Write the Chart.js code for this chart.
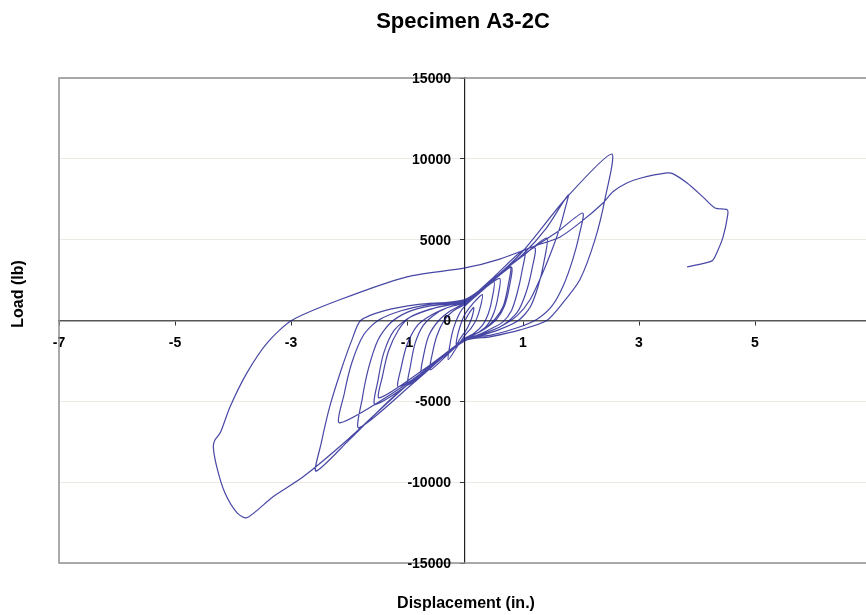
<!DOCTYPE html>
<html>
<head>
<meta charset="utf-8">
<script src="https://cdn.jsdelivr.net/npm/chart.js@4.4.1/dist/chart.umd.min.js"></script>
<style>
  html, body { margin: 0; padding: 0; background: #fff; overflow: hidden; }
  #wrap { width: 880px; height: 615px; }
</style>
</head>
<body>
<div id="wrap"><canvas id="chart" width="880" height="615"></canvas></div>
<script>
// Load-displacement record (in., lb), split by loading stage
const initialDisp = [0, 0.08, 0.15, 0.12, 0.05, 0, -0.08, -0.15, -0.12, -0.05, 0,
  0.15, 0.3, 0.27, 0.2, 0.1, 0, -0.15, -0.29, -0.26, -0.2, -0.1, 0,
  0.25, 0.5, 0.47, 0.4, 0.3, 0.15, 0, -0.3, -0.6, -0.56, -0.48, -0.36, -0.2, 0,
  0.4, 0.8, 0.76, 0.68, 0.55, 0.35, 0.15, 0, -0.5, -0.98, -0.94, -0.86, -0.72, -0.55, -0.3, 0,
  0.3, 0.6, 0.57, 0.5, 0.38, 0.2, 0, -0.4, -0.75, -0.71, -0.62, -0.45, -0.25, 0];
const initialLoad = [0, 500, 800, 200, -400, -700, -1100, -1500, -800, 0, 400,
  1100, 1600, 900, 100, -500, -900, -1700, -2430, -1500, -500, 400, 900,
  1700, 2400, 1400, 400, -300, -800, -1100, -2100, -3050, -2000, -900, 0, 600, 1000,
  2200, 3300, 2000, 900, 100, -500, -900, -1100, -2600, -3980, -2800, -1400, -300, 300, 800, 1100,
  1900, 2600, 1500, 500, -300, -800, -1100, -2300, -3300, -2100, -900, 0, 600, 1100];

const middleDisp = [0.5, 1.03, 0.98, 0.9, 0.8, 0.65, 0.4, 0.15, 0, -0.7, -1.48, -1.42, -1.32, -1.15, -0.95, -0.6, -0.3, 0,
  0.4, 0.78, 0.74, 0.66, 0.52, 0.3, 0, -0.6, -1.15, -1.1, -1.0, -0.82, -0.6, -0.3, 0,
  0.6, 1.0, 1.41, 1.36, 1.26, 1.12, 0.92, 0.6, 0.25, 0, -0.9, -1.83, -1.77, -1.66, -1.5, -1.3, -1.0, -0.6, 0,
  0.6, 1.2, 1.15, 1.05, 0.9, 0.65, 0.3, 0, -0.8, -1.55, -1.5, -1.4, -1.22, -0.95, -0.5, 0];
const middleLoad = [2700, 4400, 3000, 1700, 600, -100, -600, -1000, -1150, -3000, -4790, -3400, -1900, -600, 200, 700, 950, 1150,
  2300, 3330, 2100, 900, 100, -600, -1150, -2900, -4100, -2900, -1500, -300, 300, 800, 1150,
  2900, 4000, 5100, 3600, 2100, 800, 0, -550, -950, -1150, -3900, -6640, -4800, -2900, -1200, -200, 500, 900, 1200,
  2900, 4500, 3100, 1700, 500, -300, -850, -1150, -3500, -5200, -3700, -2000, -600, 200, 800, 1200];

const largeDisp = [0.5, 1.0, 1.4, 1.78, 1.72, 1.64, 1.52, 1.34, 1.12, 0.9, 0.6, 0.25, 0, -1.0, -2.16, -2.08, -1.95, -1.75, -1.5, -1.1, -0.6, 0,
  0.6, 1.1, 1.6, 2.03, 1.97, 1.86, 1.7, 1.5, 1.25, 0.9, 0.45, 0, -1.2, -2.0, -2.57, -2.48, -2.33, -2.13, -1.95, -1.8, -1.4, -0.8, 0];
const largeLoad = [2600, 4100, 5700, 7770, 6840, 5790, 4560, 2950, 1280, 300, -400, -900, -1200, -3900, -6330, -4500, -2600, -900, 0, 600, 1000, 1250,
  2900, 4300, 5500, 6650, 5300, 3800, 2200, 900, 100, -450, -900, -1200, -4600, -7400, -9320, -7600, -5300, -3000, -1200, 0, 600, 1000, 1300];

const finalDisp = [0.5, 1.0, 1.76, 2.53, 2.41, 2.24, 1.98, 1.69, 1.41, 0.95, 0.43, 0, -1.0, -2.0, -2.79, -3.31, -3.76,
  -3.93, -4.14, -4.28, -4.34, -4.31, -4.22, -4.05, -3.76, -3.41, -2.99, -2.16, -1.0, 0, 0.6, 1.2, 1.64, 2.0, 2.38,
  2.55, 2.79, 3.02, 3.48, 3.59, 3.83, 4.1, 4.31, 4.52, 4.53, 4.45, 4.34, 4.26, 3.83];
const finalLoad = [2600, 4300, 7640, 10300, 7460, 4990, 2520, 1100, 0, -580, -1010, -1250, -4000, -7300, -9670, -10900, -12200,
  -11900, -10660, -9050, -7800, -7380, -6950, -5330, -3240, -1380, 0, 1280, 2700, 3250, 3800, 4600, 5170, 6100, 7270,
  7960, 8500, 8800, 9130, 9070, 8500, 7650, 6960, 6850, 6530, 5170, 4180, 3690, 3320];

const dispTicks = [-7, 7, 2];        // min, max, step
const loadTicks = [-15000, 15000, 5000];

const disp = [...initialDisp, ...middleDisp, ...largeDisp, ...finalDisp];
const load = [...initialLoad, ...middleLoad, ...largeLoad, ...finalLoad];
const points = disp.map((x, i) => ({ x, y: load[i] }));

const FONT = '"Liberation Sans", Arial, sans-serif';

// drop the label overhang padding so the plot area is exactly the layout box
const noOverhang = scale => {
  scale.paddingLeft = scale.paddingRight = scale.paddingTop = scale.paddingBottom = 0;
};

// plot frame, y tick labels left of the crossing axis, chart/axis titles
const frameAndTitles = {
  id: 'frameAndTitles',
  beforeDatasetsDraw(chart) {
    const { ctx, chartArea: a, scales } = chart;
    ctx.save();
    ctx.strokeStyle = '#909090';
    ctx.lineWidth = 1.5;
    ctx.strokeRect(a.left, a.top, a.right - a.left, a.bottom - a.top);

    const axisX = scales.x.getPixelForValue(0);
    ctx.fillStyle = '#000';
    ctx.font = 'bold 14px ' + FONT;
    ctx.textAlign = 'right';
    ctx.textBaseline = 'middle';
    scales.y.ticks.forEach(t => {
      ctx.fillText(String(t.value), axisX - 14, scales.y.getPixelForValue(t.value) + 1);
    });
    ctx.restore();
  },
  afterDraw(chart) {
    const ctx = chart.ctx;
    ctx.save();
    ctx.fillStyle = '#000';
    ctx.textAlign = 'center';
    ctx.textBaseline = 'middle';
    ctx.font = 'bold 22px ' + FONT;
    ctx.fillText('Specimen A3-2C', 463, 22);
    ctx.font = 'bold 16px ' + FONT;
    ctx.fillText('Displacement (in.)', 466, 604);
    ctx.translate(19, 294);
    ctx.rotate(-Math.PI / 2);
    ctx.fillText('Load (lb)', 0, 0);
    ctx.restore();
  }
};

new Chart(document.getElementById('chart'), {
  type: 'scatter',
  data: {
    datasets: [{
      label: 'Specimen A3-2C',
      data: points,
      showLine: true,
      borderColor: 'rgba(30, 30, 145, 0.82)',
      borderWidth: 1.2,
      pointRadius: 0,
      tension: 0.25,
      fill: false
    }]
  },
  options: {
    responsive: false,
    animation: false,
    devicePixelRatio: 1,
    layout: { padding: { left: 59, top: 78, right: 9, bottom: 52 } },
    plugins: {
      legend: { display: false },
      title: { display: false },
      tooltip: { enabled: false }
    },
    scales: {
      x: {
        type: 'linear',
        position: { y: 0 },
        min: dispTicks[0],
        max: dispTicks[1],
        afterFit: noOverhang,
        ticks: {
          stepSize: dispTicks[2],
          color: '#000',
          font: { family: FONT, size: 14, weight: 'bold' },
          padding: 10,
          maxRotation: 0,
          callback: v => String(v)
        },
        grid: {
          drawOnChartArea: false,
          drawTicks: true,
          tickLength: 4,
          tickColor: '#333'
        },
        border: { color: '#555', width: 1.5 }
      },
      y: {
        type: 'linear',
        position: { x: 0 },
        min: loadTicks[0],
        max: loadTicks[1],
        afterFit: noOverhang,
        ticks: {
          stepSize: loadTicks[2],
          display: false
        },
        grid: {
          color: '#ebebe4',
          tickLength: 4,
          tickColor: '#333'
        },
        border: { color: '#222', width: 1.2 }
      }
    }
  },
  plugins: [frameAndTitles]
});
</script>
</body>
</html>
